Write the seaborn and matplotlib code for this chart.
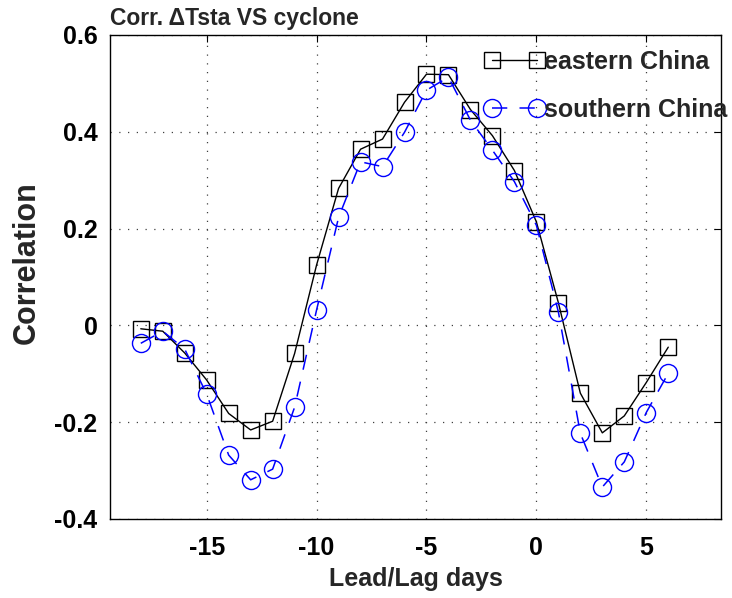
import matplotlib
matplotlib.use("Agg")
import matplotlib.pyplot as plt
import seaborn as sns
import pandas as pd

days = [-18, -17, -16, -15, -14, -13, -12, -11, -10, -9, -8, -7, -6,
        -5, -4, -3, -2, -1, 0, 1, 2, 3, 4, 5, 6]
eastern = [-0.007, -0.012, -0.057, -0.113, -0.182, -0.216, -0.198, -0.058,
           0.125, 0.283, 0.364, 0.385, 0.461, 0.519, 0.518, 0.446, 0.392,
           0.320, 0.214, 0.047, -0.140, -0.222, -0.187, -0.118, -0.045]
southern = [-0.037, -0.012, -0.049, -0.142, -0.268, -0.319, -0.297, -0.169,
            0.032, 0.223, 0.338, 0.328, 0.399, 0.486, 0.513, 0.424, 0.362,
            0.297, 0.207, 0.028, -0.223, -0.334, -0.282, -0.180, -0.099]
xticks = [-15, -10, -5, 0, 5]
yticks = [-0.4, -0.2, 0, 0.2, 0.4, 0.6]
ytick_labels = ["-0.4", "-0.2", "0", "0.2", "0.4", "0.6"]

sns.set_style("white")
plt.rcParams["font.family"] = ["Liberation Sans", "DejaVu Sans"]
plt.rcParams["font.weight"] = "bold"

df = pd.DataFrame({"day": days, "eastern": eastern, "southern": southern})

fig = plt.figure(figsize=(7.32, 5.98), dpi=100)
ax = fig.add_axes([110/732, 1-519/598, (721-110)/732, (519-35)/598])

sns.lineplot(data=df, x="day", y="eastern", ax=ax, color="black", lw=1.0,
             marker="s", markersize=11, markerfacecolor="none",
             markeredgecolor="black", markeredgewidth=1.0,
             label="eastern China")
sns.lineplot(data=df, x="day", y="southern", ax=ax, color="#0000ff", lw=1.1,
             marker="o", markersize=13, markerfacecolor="none",
             markeredgecolor="#0000ff", markeredgewidth=1.0,
             dashes=(10, 8), label="southern China")

ax.set_xlim(-19.4, 8.4)
ax.set_ylim(-0.4, 0.6)
ax.set_xticks(xticks)
ax.set_xticklabels([str(t) for t in xticks])
ax.set_yticks(yticks)
ax.set_yticklabels(ytick_labels)
ax.grid(True, color="#404040", linestyle=(0, (1, 6)), lw=0.9)
ax.tick_params(direction="in", length=5, width=0.8, top=True, right=True,
               labelsize=18, colors="black")
ax.tick_params(axis="x", pad=12)
ax.tick_params(axis="y", pad=9)
for lab in ax.get_xticklabels() + ax.get_yticklabels():
    lab.set_fontweight("bold")
for s in ax.spines.values():
    s.set_color("black")
    s.set_linewidth(1.0)

ax.set_xlabel("Lead/Lag days", fontsize=18, fontweight="bold", labelpad=5)
ax.set_ylabel("Correlation", fontsize=22, fontweight="bold")
ax.yaxis.set_label_coords((42 - 110) / 611, (519 - 263) / 484)
ax.set_title("Corr. \u0394Tsta VS cyclone", loc="left", fontsize=16.5,
             fontweight="bold", pad=7)

leg = ax.legend(loc="upper right", bbox_to_anchor=(1 + 21/611, 1.0),
                frameon=False, numpoints=2,
                handlelength=2.4, handletextpad=-0.05,
                labelspacing=0.95, borderaxespad=0.2,
                prop={"weight": "bold", "size": 18})

fig.savefig("out.png", dpi=100)
